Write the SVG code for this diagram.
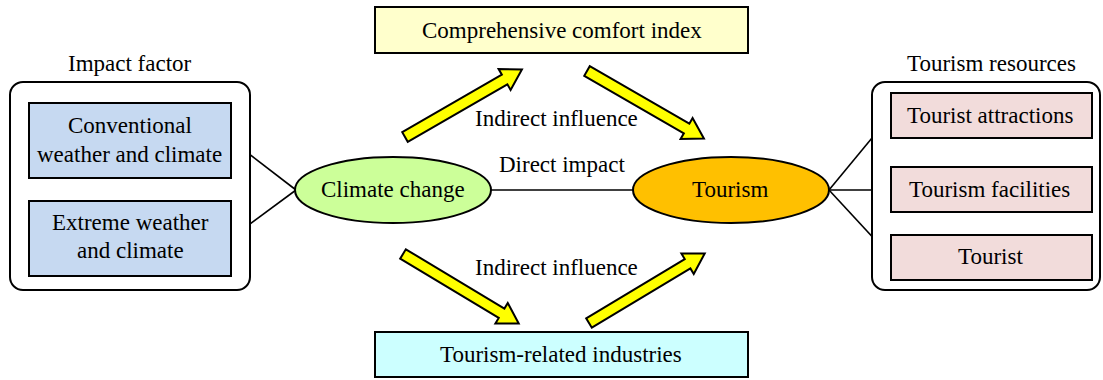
<svg xmlns="http://www.w3.org/2000/svg" width="1103" height="380" viewBox="0 0 1103 380">
  <defs>
    <!-- block arrow pointing along +x, tail at the origin -->
    <path id="blockArrow" d="M0,-5.5 L115,-5.5 L115,-12 L135,0 L115,12 L115,5.5 L0,5.5 Z" fill="#ffff00" stroke="#000" stroke-width="2"/>
  </defs>
  <rect width="1103" height="380" fill="#fff"/>

  <!-- connectors -->
  <g id="connectors">
    <line x1="231" y1="140" x2="296" y2="190" stroke="#000" stroke-width="1.6"/>
    <line x1="231" y1="238" x2="296" y2="190" stroke="#000" stroke-width="1.6"/>
    <line x1="491" y1="190" x2="633" y2="190" stroke="#000" stroke-width="1.6"/>
    <line x1="829" y1="190" x2="891" y2="115" stroke="#000" stroke-width="1.6"/>
    <line x1="829" y1="190" x2="891" y2="190" stroke="#000" stroke-width="1.6"/>
    <line x1="829" y1="190" x2="891" y2="257" stroke="#000" stroke-width="1.6"/>
    <use href="#blockArrow" transform="translate(405,137) rotate(-30)"/>
    <use href="#blockArrow" transform="translate(587,71) rotate(30)"/>
    <use href="#blockArrow" transform="translate(403,254) rotate(31)"/>
    <use href="#blockArrow" transform="translate(589,323) rotate(-31)"/>
    <text x="475" y="126" font-size="23" font-family="Liberation Serif">Indirect influence</text>
    <text x="499" y="172" font-size="23" font-family="Liberation Serif">Direct impact</text>
    <text x="475" y="275" font-size="23" font-family="Liberation Serif">Indirect influence</text>
  </g>

  <!-- impact factor panel -->
  <g id="impact-factor">
    <text x="68" y="71" font-size="23" font-family="Liberation Serif">Impact factor</text>
    <rect x="10" y="82" width="240" height="208" rx="13" fill="#fff" stroke="#000" stroke-width="2"/>
    <g id="conventional">
      <rect x="29" y="103" width="202" height="75" fill="#c6d9f1" stroke="#000" stroke-width="2"/>
      <text x="68" y="133" font-size="23" font-family="Liberation Serif">Conventional</text>
      <text x="37" y="162" font-size="23" font-family="Liberation Serif">weather and climate</text>
    </g>
    <g id="extreme">
      <rect x="29" y="201" width="202" height="75" fill="#c6d9f1" stroke="#000" stroke-width="2"/>
      <text x="52" y="230" font-size="23" font-family="Liberation Serif">Extreme weather</text>
      <text x="77" y="258" font-size="23" font-family="Liberation Serif">and climate</text>
    </g>
  </g>

  <!-- tourism resources panel -->
  <g id="tourism-resources">
    <text x="907" y="71" font-size="23" font-family="Liberation Serif">Tourism resources</text>
    <rect x="872" y="82" width="228" height="208" rx="13" fill="#fff" stroke="#000" stroke-width="2"/>
    <g id="attractions">
      <rect x="891" y="93" width="201" height="45" fill="#f2dcdb" stroke="#000" stroke-width="2"/>
      <text x="907" y="123" font-size="23" font-family="Liberation Serif">Tourist attractions</text>
    </g>
    <g id="facilities">
      <rect x="891" y="167" width="201" height="45" fill="#f2dcdb" stroke="#000" stroke-width="2"/>
      <text x="909" y="197" font-size="23" font-family="Liberation Serif">Tourism facilities</text>
    </g>
    <g id="tourist">
      <rect x="891" y="235" width="201" height="45" fill="#f2dcdb" stroke="#000" stroke-width="2"/>
      <text x="958" y="264" font-size="23" font-family="Liberation Serif">Tourist</text>
    </g>
  </g>

  <g id="comfort-index">
    <rect x="375" y="7" width="373" height="46" fill="#ffffcc" stroke="#000" stroke-width="2"/>
    <text x="422" y="38" font-size="23" font-family="Liberation Serif">Comprehensive comfort index</text>
  </g>

  <g id="related-industries">
    <rect x="375" y="332" width="373" height="45" fill="#ccffff" stroke="#000" stroke-width="2"/>
    <text x="440" y="362" font-size="23" font-family="Liberation Serif">Tourism-related industries</text>
  </g>

  <g id="climate-change">
    <ellipse cx="393" cy="190" rx="98" ry="33" fill="#ccff99" stroke="#000" stroke-width="2"/>
    <text x="321" y="197" font-size="23" font-family="Liberation Serif">Climate change</text>
  </g>

  <g id="tourism">
    <ellipse cx="731" cy="190" rx="98" ry="33" fill="#ffc000" stroke="#000" stroke-width="2"/>
    <text x="692" y="197" font-size="23" font-family="Liberation Serif">Tourism</text>
  </g>
</svg>
